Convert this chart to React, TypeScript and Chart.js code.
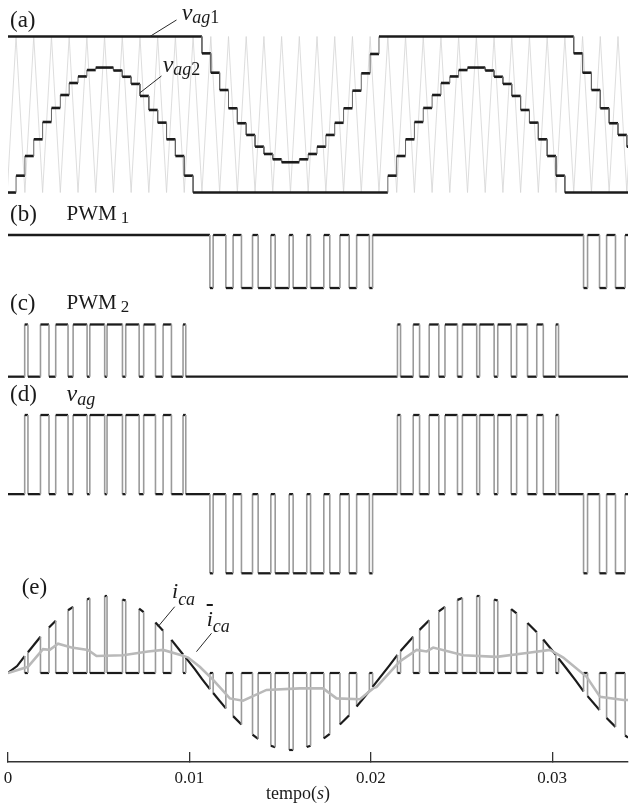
import React, { useEffect, useRef } from 'react';
import { Chart, registerables } from 'chart.js';

Chart.register(...registerables);

const SERIF = "'Liberation Serif', 'Times New Roman', serif";

// ---------- shared time axis ----------
const timeTickValues = [0, 0.01, 0.02, 0.03];
const timeTickLabels = ['0', '0.01', '0.02', '0.03'];
const timeEndMs = 34.18;

// ---------- (a) triangular carrier (vertex times, ms) ----------
const carrierPeakMs = [
  0.444, 1.42, 2.396, 3.372, 4.348, 5.324, 6.3, 7.276, 8.252, 9.228, 10.204, 11.18,
  12.156, 13.132, 14.108, 15.084, 16.06, 17.036, 18.012, 18.988, 19.964, 20.94, 21.916,
  22.892, 23.868, 24.844, 25.82, 26.796, 27.772, 28.748, 29.724, 30.7, 31.676, 32.652,
  33.628, 34.604,
];
const carrierValleyMs = [
  -0.044, 0.932, 1.908, 2.884, 3.86, 4.836, 5.812, 6.788, 7.764, 8.74, 9.716, 10.692,
  11.668, 12.644, 13.62, 14.596, 15.572, 16.548, 17.524, 18.5, 19.476, 20.452, 21.428,
  22.404, 23.38, 24.356, 25.332, 26.308, 27.284, 28.26, 29.236, 30.212, 31.188, 32.164,
  33.14, 34.116,
];

// ---------- (a) sampled references: step start (ms) and held level ----------
const vag1StepMs = [
  0, 10.692, 11.18, 11.668, 12.156, 12.644, 13.132, 13.62, 14.108, 14.596, 15.084,
  16.06, 16.548, 17.036, 17.524, 18.012, 18.5, 18.988, 19.476, 19.964, 20.452,
  31.188, 31.676, 32.164, 32.652, 33.14, 33.628, 34.116,
];
const vag1Level = [
  1, 0.892, 0.768, 0.657, 0.54, 0.444, 0.369, 0.294, 0.247, 0.213, 0.194,
  0.213, 0.247, 0.294, 0.369, 0.447, 0.54, 0.653, 0.764, 0.888, 1,
  0.892, 0.768, 0.657, 0.54, 0.444, 0.369, 0.294,
];
const vag2StepMs = [
  0, 0.444, 0.932, 1.42, 1.908, 2.396, 2.884, 3.372, 3.86, 4.348, 4.836,
  5.812, 6.3, 6.788, 7.276, 7.764, 8.252, 8.74, 9.228, 9.716, 10.204,
  20.94, 21.428, 21.916, 22.404, 22.892, 23.38, 23.868, 24.356, 24.844, 25.332,
  26.308, 26.796, 27.284, 27.772, 28.26, 28.748, 29.236, 29.724, 30.212, 30.7,
];
const vag2Level = [
  0, 0.108, 0.234, 0.341, 0.452, 0.542, 0.625, 0.702, 0.744, 0.785, 0.801,
  0.782, 0.742, 0.696, 0.619, 0.529, 0.448, 0.341, 0.234, 0.108, 0,
  0.108, 0.234, 0.341, 0.452, 0.542, 0.625, 0.702, 0.744, 0.785, 0.801,
  0.782, 0.742, 0.696, 0.619, 0.529, 0.448, 0.341, 0.234, 0.108, 0,
];

// ---------- (b) PWM1 low intervals, (c) PWM2 high intervals (ms) ----------
const pwm1LowMs: Array<[number, number]> = [
  [11.13, 11.31], [12.01, 12.41], [12.87, 13.48], [13.79, 14.49], [14.73, 15.5],
  [15.72, 16.47], [16.68, 17.41], [17.74, 18.3], [18.81, 19.22], [19.92, 20.1],
  [31.73, 31.95], [32.61, 33.0], [33.49, 34.02],
];
const pwm2HighMs: Array<[number, number]> = [
  [0.92, 1.1], [1.79, 2.26], [2.63, 3.31], [3.59, 4.36], [4.51, 5.33],
  [5.46, 6.31], [6.49, 7.23], [7.48, 8.13], [8.55, 9.01], [9.65, 9.8],
  [21.47, 21.64], [22.34, 22.69], [23.22, 23.75], [24.09, 24.78], [25.05, 25.84],
  [26.0, 26.8], [27.0, 27.74], [28.04, 28.64], [29.15, 29.51], [30.2, 30.35],
];

// ---------- (e) phase current at switching instants (ms, p.u.) ----------
const iaMs = [
  0, 0.5, 0.92, 1.1, 1.79, 2.26, 2.63, 3.31, 3.59, 4.36, 4.51, 5.33, 5.46, 6.31, 6.49,
  7.23, 7.48, 8.13, 8.55, 9.01, 9.65, 9.8, 10.3, 10.7, 11.13, 11.31, 12.01, 12.41,
  12.87, 13.48, 13.79, 14.49, 14.73, 15.5, 15.72, 16.47, 16.68, 17.41, 17.74, 18.3,
  18.81, 19.22, 19.92, 20.1, 20.5, 21.0, 21.47, 21.64, 22.34, 22.69, 23.22, 23.75,
  24.09, 24.78, 25.05, 25.84, 26.0, 26.8, 27.0, 27.74, 28.04, 28.64, 29.15, 29.51,
  30.2, 30.35, 30.8, 31.3, 31.73, 31.95, 32.61, 33.0, 33.49, 34.02, 34.18,
];
const iaVal = [
  0, 0.09, 0.22, 0.27, 0.47, 0.59, 0.68, 0.815, 0.86, 0.955, 0.97, 1.0, 1.0, 0.955, 0.94,
  0.835, 0.79, 0.655, 0.55, 0.43, 0.24, 0.2, 0.05, -0.08, -0.21, -0.26, -0.46, -0.56,
  -0.67, -0.8, -0.855, -0.945, -0.965, -1.0, -1.0, -0.962, -0.945, -0.85, -0.79, -0.67,
  -0.55, -0.435, -0.235, -0.18, -0.06, 0.09, 0.235, 0.285, 0.47, 0.56, 0.685, 0.8,
  0.86, 0.95, 0.975, 1.0, 1.0, 0.955, 0.94, 0.83, 0.775, 0.65, 0.53, 0.435,
  0.235, 0.19, 0.055, -0.1, -0.24, -0.3, -0.48, -0.585, -0.7, -0.81, -0.84,
];

// ---------- (e) averaged neutral-point current ----------
const icaMeanMs = [
  0, 1.1, 1.93, 2.3, 2.76, 3.5, 4.41, 4.88, 6.34, 7.72, 8.55, 9.56, 9.93, 10.57, 11.31,
  12.23, 12.96, 14.25, 16.09, 17.37, 18.11, 19.4, 20.13, 20.32, 21.6, 22.53, 23.08,
  23.44, 25.1, 26.94, 28.59, 29.88, 30.61, 31.9, 32.64, 33.93, 34.18,
];
const icaMeanVal = [
  0, 0.08, 0.31, 0.3, 0.38, 0.33, 0.3, 0.22, 0.23, 0.28, 0.3, 0.23, 0.2, 0.08, -0.09,
  -0.33, -0.36, -0.22, -0.2, -0.2, -0.33, -0.34, -0.2, -0.18, 0.15, 0.3, 0.28,
  0.33, 0.23, 0.21, 0.26, 0.3, 0.2, -0.05, -0.31, -0.35, -0.35,
];

// leader lines from labels to their traces (time in ms, value on panel axis)
const leaderLines = [
  { axis: 'yA', fromMs: 7.82, fromY: 1.0, toMs: 9.29, toY: 1.106 },
  { axis: 'yA', fromMs: 7.26, fromY: 0.638, toMs: 8.46, toY: 0.747 },
  { axis: 'yE', fromMs: 8.27, fromY: 0.601, toMs: 9.19, toY: 0.861 },
  { axis: 'yE', fromMs: 10.39, fromY: 0.277, toMs: 11.22, toY: 0.516 },
];

type Pt = { x: number; y: number };
const sec = (ms: number) => ms / 1000;

function stairs(stepMs: number[], levels: number[], endMs: number): Pt[] {
  const pts: Pt[] = [];
  for (let i = 0; i < stepMs.length; i++) {
    if (i > 0) pts.push({ x: sec(stepMs[i]), y: levels[i - 1] });
    pts.push({ x: sec(stepMs[i]), y: levels[i] });
  }
  pts.push({ x: sec(endMs), y: levels[levels.length - 1] });
  return pts;
}

function pulseTrain(base: number, parts: Array<[number, number, number]>, endMs: number): Pt[] {
  const pts: Pt[] = [{ x: 0, y: base }];
  for (const [a, b, lvl] of parts) {
    pts.push({ x: sec(a), y: base }, { x: sec(a), y: lvl }, { x: sec(b), y: lvl }, { x: sec(b), y: base });
  }
  pts.push({ x: sec(endMs), y: base });
  return pts;
}

function carrierPoints(): Pt[] {
  const v = [
    ...carrierPeakMs.map((t) => ({ x: sec(t), y: 1 })),
    ...carrierValleyMs.map((t) => ({ x: sec(t), y: 0 })),
  ];
  return v.sort((p, q) => p.x - q.x);
}

function neutralCurrent(): Pt[] {
  const active = [...pwm2HighMs, ...pwm1LowMs].sort((p, q) => p[0] - q[0]);
  const zeroStates: Array<[number, number]> = [];
  let cursor = 0;
  for (const [a, b] of active) {
    zeroStates.push([cursor, a]);
    cursor = b;
  }
  zeroStates.push([cursor, timeEndMs]);
  const pts: Pt[] = [];
  for (const [a, b] of zeroStates) {
    if (a > 0) pts.push({ x: sec(a), y: 0 });
    iaMs.forEach((t, i) => {
      if (t >= a - 1e-9 && t <= b + 1e-9) pts.push({ x: sec(t), y: iaVal[i] });
    });
    if (b < timeEndMs) pts.push({ x: sec(b), y: 0 });
  }
  return pts;
}

const isVertical = (ctx: any) => ctx.p0.parsed.x === ctx.p1.parsed.x;
function edgeStyle(flatColor: string, flatWidth: number, edgeColor: string, edgeWidth: number) {
  return {
    borderColor: (ctx: any) => (isVertical(ctx) ? edgeColor : flatColor),
    borderWidth: (ctx: any) => (isVertical(ctx) ? edgeWidth : flatWidth),
  };
}

function trace(data: Pt[], yAxisID: string, extra: Record<string, unknown>) {
  return {
    type: 'line' as const,
    data,
    xAxisID: 'x',
    yAxisID,
    pointRadius: 0,
    pointHoverRadius: 0,
    tension: 0,
    fill: false,
    borderCapStyle: 'butt',
    borderJoinStyle: 'miter',
    ...extra,
  };
}

const DARK = '#1b1b1b';

const leaderPlugin = {
  id: 'leaders',
  afterDatasetsDraw(chart: any) {
    const { ctx } = chart;
    const xs = chart.scales.x;
    ctx.save();
    ctx.strokeStyle = '#2a2a2a';
    ctx.lineWidth = 1;
    for (const l of leaderLines) {
      const ys = chart.scales[l.axis];
      ctx.beginPath();
      ctx.moveTo(xs.getPixelForValue(sec(l.fromMs)), ys.getPixelForValue(l.fromY));
      ctx.lineTo(xs.getPixelForValue(sec(l.toMs)), ys.getPixelForValue(l.toY));
      ctx.stroke();
    }
    ctx.restore();
  },
};

function panelAxis(weight: number, stackWeight: number, min: number, max: number) {
  return { type: 'linear', display: false, position: 'left', stack: 'panels', stackWeight, weight, min, max, bounds: 'data' };
}

const BASE = 0.8375;
function TextAt(props: { left: number; baseline: number; size: number; children: React.ReactNode }) {
  const { left, baseline, size, children } = props;
  return (
    <div
      style={{
        position: 'absolute', left, top: baseline - BASE * size, fontSize: size, lineHeight: 1,
        fontFamily: SERIF, color: '#1a1a1a', whiteSpace: 'nowrap',
      }}
    >
      {children}
    </div>
  );
}
const Sub = (props: { size: number; dy: number; gap?: number; children: React.ReactNode }) => (
  <span style={{ fontSize: props.size, position: 'relative', top: props.dy, marginLeft: props.gap || 0 }}>{props.children}</span>
);

export default function App() {
  const canvasRef = useRef<HTMLCanvasElement>(null);

  useEffect(() => {
    const pwm1 = pulseTrain(1, pwm1LowMs.map(([a, b]) => [a, b, 0] as [number, number, number]), timeEndMs);
    const pwm2 = pulseTrain(0, pwm2HighMs.map(([a, b]) => [a, b, 1] as [number, number, number]), timeEndMs);
    const vagParts = [
      ...pwm2HighMs.map(([a, b]) => [a, b, 1] as [number, number, number]),
      ...pwm1LowMs.map(([a, b]) => [a, b, -1] as [number, number, number]),
    ].sort((p, q) => p[0] - q[0]);
    const vag = pulseTrain(0, vagParts, timeEndMs);

    const chart = new Chart(canvasRef.current as HTMLCanvasElement, {
      type: 'line',
      data: {
        datasets: [
          trace(stairs(vag1StepMs, vag1Level, timeEndMs), 'yA', { segment: edgeStyle(DARK, 2.6, '#666', 1) }),
          trace(stairs(vag2StepMs, vag2Level, timeEndMs), 'yA', { segment: edgeStyle(DARK, 2.6, '#666', 1) }),
          trace(carrierPoints(), 'yA', { borderColor: '#d4d4d4', borderWidth: 0.8 }),
          trace(pwm1, 'yB', { segment: edgeStyle(DARK, 2.3, '#9a9a9a', 1.6) }),
          trace(pwm2, 'yC', { segment: edgeStyle(DARK, 2.3, '#9a9a9a', 1.6) }),
          trace(vag, 'yD', { segment: edgeStyle(DARK, 2.3, '#9a9a9a', 1.6) }),
          trace(icaMeanMs.map((t, i) => ({ x: sec(t), y: icaMeanVal[i] })), 'yE', { borderColor: '#b9b9b9', borderWidth: 2.6 }),
          trace(neutralCurrent(), 'yE', { segment: edgeStyle(DARK, 2.2, '#9a9a9a', 1.6) }),
        ] as any,
      },
      options: {
        responsive: false,
        animation: false,
        events: [],
        layout: { padding: { left: 8, right: 3, top: 0, bottom: 0 } },
        plugins: { legend: { display: false }, tooltip: { enabled: false } },
        scales: {
          x: {
            type: 'linear',
            position: 'bottom',
            min: 0,
            max: sec(timeEndMs),
            bounds: 'data',
            afterBuildTicks: (s: any) => {
              s.ticks = timeTickValues.map((v) => ({ value: v }));
            },
            afterFit: (s: any) => {
              s.height = 41;
              s.paddingLeft = 0;
              s.paddingRight = 0;
            },
            ticks: {
              autoSkip: false,
              maxRotation: 0,
              padding: 16,
              color: '#1a1a1a',
              font: { family: SERIF, size: 17 },
              callback: (v: any) => timeTickLabels[timeTickValues.indexOf(Number(v))] ?? '',
            },
            grid: { drawOnChartArea: false, drawTicks: true, tickLength: -10, color: '#333', lineWidth: 1.3 },
            border: { display: true, color: '#333', width: 1.5 },
          },
          yA: panelAxis(5, 205, -0.08, 1.234),
          yB: panelAxis(4, 95, -0.226, 1.566),
          yC: panelAxis(3, 90, -0.255, 1.469),
          yD: panelAxis(2, 195, -1.148, 1.316),
          yE: panelAxis(1, 177, -1.156, 1.143),
        } as any,
      },
      plugins: [leaderPlugin],
    });
    return () => chart.destroy();
  }, []);

  return (
    <div style={{ position: 'fixed', left: 0, top: 0, width: 631, height: 803, background: '#fff', overflow: 'hidden' }}>
      <canvas ref={canvasRef} width={631} height={803} style={{ position: 'absolute', left: 0, top: 0 }} />

      <TextAt left={10} baseline={27.7} size={23}>(a)</TextAt>
      <TextAt left={10} baseline={221} size={23}>(b)</TextAt>
      <TextAt left={10} baseline={310} size={23}>(c)</TextAt>
      <TextAt left={10} baseline={401} size={23}>(d)</TextAt>
      <TextAt left={21.7} baseline={594} size={23}>(e)</TextAt>

      <TextAt left={181.7} baseline={20} size={24}>
        <i>v</i>
        <Sub size={18} dy={3}><i>ag</i>1</Sub>
      </TextAt>
      <TextAt left={162.7} baseline={71.7} size={24}>
        <i>v</i>
        <Sub size={18} dy={3}><i>ag</i>2</Sub>
      </TextAt>

      <TextAt left={66.6} baseline={221} size={21}>
        PWM<Sub size={17} dy={3} gap={4}>1</Sub>
      </TextAt>
      <TextAt left={66.6} baseline={310} size={21}>
        PWM<Sub size={17} dy={3} gap={4}>2</Sub>
      </TextAt>

      <TextAt left={66.6} baseline={401} size={24}>
        <i>v</i>
        <Sub size={18} dy={4}><i>ag</i></Sub>
      </TextAt>

      <TextAt left={172} baseline={598} size={22}>
        <i>i</i>
        <Sub size={18} dy={7}><i>ca</i></Sub>
      </TextAt>
      <TextAt left={206.7} baseline={626.7} size={22}>
        <i style={{ textDecoration: 'overline' }}>i</i>
        <Sub size={18} dy={6}><i>ca</i></Sub>
      </TextAt>

      <TextAt left={266} baseline={799.5} size={18}>
        tempo(<i>s</i>)
      </TextAt>
    </div>
  );
}
